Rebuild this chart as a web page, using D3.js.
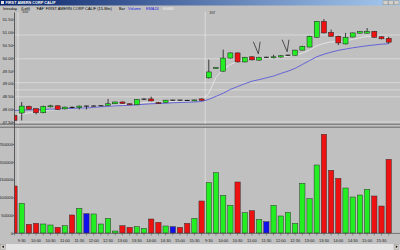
<!DOCTYPE html>
<html>
<head>
<meta charset="utf-8">
<script src="https://cdn.jsdelivr.net/npm/d3@7"></script>
<style>
  body { margin: 0; background: #c0c0c0; }
  svg { display: block; font-family: "Liberation Sans", Arial, sans-serif; }
</style>
</head>
<body>
<div id="chart"></div>
<script>
const sessionTimes = ["9:30","9:45","10:00","10:15","10:30","10:45","11:00","11:15","11:30","11:45","12:00","12:15","12:30","12:45","13:00","13:15","13:30","13:45","14:00","14:15","14:30","14:45","15:00","15:15","15:30","15:45"];
const times = ["15:45", ...sessionTimes, ...sessionTimes];
const dayLabels = ["3/06", "3/07"];
const dayStarts = [1, 27];

const opens  = [47.76,47.85,48.11,48.02,47.86,48.09,48.13,48.01,48.07,48.06,48.12,48.12,48.13,48.15,48.21,48.28,48.21,48.17,48.39,48.40,48.26,48.26,48.35,48.35,48.34,48.33,48.40,
                49.22,49.60,49.48,49.99,50.19,49.84,50.04,49.91,50.02,50.02,50.03,50.10,50.10,50.30,50.42,50.80,51.42,50.99,50.84,50.54,50.81,50.96,50.96,51.03,50.82,50.76];
const highs  = [47.80,48.28,48.14,48.04,48.14,48.17,48.15,48.10,48.10,48.14,48.13,48.15,48.15,48.40,48.29,48.30,48.22,48.39,48.42,48.49,48.28,48.36,48.36,48.36,48.36,48.37,48.42,
                49.93,49.64,50.32,50.21,50.21,50.04,50.06,50.04,50.04,50.12,50.10,50.12,50.31,50.47,50.86,51.43,51.51,51.10,50.86,50.97,50.98,51.04,51.16,51.05,50.84,50.82];
const lows   = [47.52,47.56,47.98,47.80,47.84,48.07,47.97,47.99,48.03,47.99,47.99,48.11,48.12,48.14,48.20,48.21,48.17,48.16,48.37,48.31,48.20,48.25,48.33,48.33,48.32,48.32,48.33,
                49.19,49.58,49.46,49.97,49.82,49.82,49.90,49.89,50.00,49.98,50.01,50.08,50.09,50.29,50.41,50.79,50.95,50.83,50.49,50.52,50.80,50.95,50.95,50.79,50.72,50.55];
const closes = [47.56,48.12,48.00,47.86,48.11,48.13,47.99,48.08,48.06,48.12,48.12,48.13,48.14,48.21,48.28,48.22,48.19,48.38,48.40,48.32,48.24,48.35,48.35,48.34,48.33,48.36,48.34,
                49.45,49.62,49.99,50.19,49.84,50.02,49.92,50.02,50.02,50.04,50.08,50.10,50.30,50.45,50.84,51.42,50.97,50.84,50.58,50.80,50.97,51.02,51.03,50.80,50.74,50.61];

const volumes = [132000,83400,24400,27200,25300,22500,16000,20500,50600,69400,54200,53400,25300,41300,5600,20500,16000,17700,13200,39300,30000,19700,17700,16000,27200,41300,89900,
                 141300,169400,105900,77800,143300,57000,62600,38500,31700,77800,47800,58100,27200,139600,96300,191000,277200,176100,153600,126400,101100,106700,122800,103900,75800,207000];
const volumeDir = ["d","u","d","d","u","u","d","u","d","u","n","u","u","u","u","d","d","u","u","d","d","u","n","d","d","u","d",
                   "u","u","u","u","d","u","d","u","n","u","u","u","u","u","u","u","d","d","d","u","u","u","u","d","d","d"];

const ema24 = [47.95,47.96,47.97,47.98,47.99,48.00,48.01,48.02,48.03,48.04,48.05,48.07,48.09,48.11,48.13,48.14,48.15,48.17,48.19,48.21,48.22,48.23,48.25,48.26,48.27,48.28,48.30,
               48.38,48.50,48.62,48.77,48.88,48.99,49.09,49.15,49.22,49.29,49.39,49.48,49.59,49.74,49.89,50.04,50.14,50.22,50.29,50.34,50.39,50.43,50.47,50.50,50.53,50.55];
const fastLine = [47.70,47.80,47.86,47.86,47.92,47.97,47.98,48.00,48.02,48.04,48.06,48.08,48.09,48.12,48.15,48.17,48.18,48.22,48.26,48.27,48.27,48.29,48.30,48.31,48.31,48.32,48.33,
                  48.62,49.24,49.55,49.74,49.86,49.94,49.98,50.00,50.01,50.02,50.04,50.06,50.11,50.18,50.30,50.47,50.56,50.62,50.62,50.66,50.72,50.78,50.83,50.82,50.80,50.76];

const levels = [50.89, 49.96, 49.03, 48.75, 48.48, 47.50];
const markBars = [34, 38];
const priceTicks = [47.5, 48, 48.5, 49, 49.5, 50, 50.5, 51, 51.5];
const volumeTicks = [0, 50000, 100000, 150000, 200000, 250000];

const W = 400, H = 250;
const plotLeft = 14.5;

const svg = d3.select("#chart").append("svg")
  .attr("width", W).attr("height", H);

svg.append("rect").attr("width", W).attr("height", H).attr("fill", "#c0c0c0");

// window title bar
const grad = svg.append("defs").append("linearGradient").attr("id", "tb");
grad.append("stop").attr("offset", "0%").attr("stop-color", "#0a246a");
grad.append("stop").attr("offset", "100%").attr("stop-color", "#a6caf0");
svg.append("rect").attr("width", W).attr("height", 5.5).attr("fill", "url(#tb)");
svg.append("rect").attr("x", 1).attr("y", 1).attr("width", 3).attr("height", 3).attr("fill", "#e0e0e0");
svg.append("text").attr("x", 5.5).attr("y", 4.3).attr("fill", "#fff")
  .attr("font-size", 3.8).attr("font-weight", "bold").text("FIRST AMERN CORP CALIF");
[383, 388.5, 394].forEach(bx => {
  svg.append("rect").attr("x", bx).attr("y", 0.8).attr("width", 5).attr("height", 4)
    .attr("fill", "#d4d0c8").attr("stroke", "#808080").attr("stroke-width", 0.4);
});

// header line
const header = [
  { t: "Intraday", x: 3, c: "#000" },
  { t: "(Left)", x: 21, c: "#000" },
  { t: "'FAF' FIRST AMERN CORP CALIF (15-Min)", x: 36, c: "#000" },
  { t: "Bar", x: 119, c: "#000" },
  { t: "Volume", x: 128, c: "#2020e0" },
  { t: "EMA24", x: 146, c: "#2020e0" },
  { t: "EMA8", x: 163, c: "#ececec" }
];
svg.selectAll(".hdr").data(header).enter().append("text")
  .attr("class", "hdr")
  .attr("x", d => d.x).attr("y", 9.8)
  .attr("font-size", 3.9).attr("fill", d => d.c)
  .text(d => d.t);

const x = d3.scalePoint().domain(d3.range(times.length)).range([14.5, 388.7]);
const price = d3.scaleLinear().domain([47.5, 51.5]).range([122, 19.3]);
const vol = d3.scaleLinear().domain([0, 250000]).range([233, 144]);

const clip = svg.append("defs").append("clipPath").attr("id", "plotclip");
clip.append("rect").attr("x", plotLeft).attr("y", 12).attr("width", W - plotLeft).attr("height", 222);

// panel separator
svg.append("line").attr("x1", 0).attr("x2", W).attr("y1", 124.2).attr("y2", 124.2)
  .attr("stroke", "#505050").attr("stroke-width", 0.8);
svg.append("line").attr("x1", 0).attr("x2", W).attr("y1", 127.2).attr("y2", 127.2)
  .attr("stroke", "#505050").attr("stroke-width", 0.8);

const plot = svg.append("g").attr("clip-path", "url(#plotclip)");

// day separators
dayStarts.forEach(i => {
  const sx = (x(i - 1) + x(i)) / 2;
  plot.append("line").attr("x1", sx).attr("x2", sx).attr("y1", 12).attr("y2", 124)
    .attr("stroke", "#e2e2e2").attr("stroke-width", 0.8);
  plot.append("line").attr("x1", sx).attr("x2", sx).attr("y1", 128).attr("y2", 233)
    .attr("stroke", "#e2e2e2").attr("stroke-width", 0.8);
});

dayLabels.forEach((lbl, k) => {
  svg.append("text").attr("x", x(dayStarts[k]) + 0.6).attr("y", k === 0 ? 12.8 : 13.6)
    .attr("font-size", 3).attr("fill", "#202020").text(lbl);
});

// price levels
plot.selectAll(".level").data(levels).enter().append("line")
  .attr("class", "level")
  .attr("x1", plotLeft).attr("x2", W)
  .attr("y1", d => price(d)).attr("y2", d => price(d))
  .attr("stroke", "#dedede").attr("stroke-width", 0.8);

// moving averages
const maLine = vals => d3.line().x((d, i) => x(i)).y(d => price(d))(vals);
plot.append("path").attr("d", maLine(fastLine))
  .attr("fill", "none").attr("stroke", "#e6e6e6").attr("stroke-width", 0.9);
plot.append("path").attr("d", maLine(ema24))
  .attr("fill", "none").attr("stroke", "#5a5ad8").attr("stroke-width", 0.9);

// candles
const bodyW = 5;
const candles = plot.selectAll(".candle").data(d3.range(times.length)).enter().append("g")
  .attr("class", "candle");
candles.append("line")
  .attr("x1", i => x(i)).attr("x2", i => x(i))
  .attr("y1", i => price(highs[i])).attr("y2", i => price(lows[i]))
  .attr("stroke", "#000").attr("stroke-width", 0.7);
candles.each(function (i) {
  const g = d3.select(this);
  const o = opens[i], c = closes[i];
  if (Math.abs(c - o) < 0.015) {
    g.append("line")
      .attr("x1", x(i) - bodyW / 2).attr("x2", x(i) + bodyW / 2)
      .attr("y1", price(o)).attr("y2", price(o))
      .attr("stroke", "#000").attr("stroke-width", 0.9);
  } else {
    const top = price(Math.max(o, c)), bot = price(Math.min(o, c));
    g.append("rect")
      .attr("x", x(i) - bodyW / 2).attr("y", top)
      .attr("width", bodyW).attr("height", Math.max(1, bot - top))
      .attr("fill", c > o ? "#22ee22" : "#ee1111")
      .attr("stroke", "#202020").attr("stroke-width", 0.5);
  }
});

// hand-drawn marks above two bars
markBars.forEach(i => {
  const tipX = x(i) - 0.8, tipY = price(highs[i]) - 3;
  plot.append("path")
    .attr("d", `M${tipX - 5},${tipY - 12}L${tipX},${tipY}L${tipX + 1.8},${tipY - 12}`)
    .attr("fill", "none").attr("stroke", "#000").attr("stroke-width", 0.6);
});

// volume
const volColor = { u: "#22ee22", d: "#ee1111", n: "#1010ee" };
const barW = 5.3;
plot.selectAll(".vbar").data(volumes).enter().append("rect")
  .attr("class", "vbar")
  .attr("x", (d, i) => x(i) - barW / 2)
  .attr("y", d => vol(d))
  .attr("width", barW)
  .attr("height", d => vol(0) - vol(d))
  .attr("fill", (d, i) => volColor[volumeDir[i]])
  .attr("stroke", "#303030").attr("stroke-width", 0.5);

// axes
const priceAxis = svg.append("g").attr("transform", `translate(${plotLeft},0)`)
  .call(d3.axisLeft(price).tickValues(priceTicks).tickFormat(d3.format(".2f")).tickSize(2).tickSizeOuter(0));
const volAxis = svg.append("g").attr("transform", `translate(${plotLeft},0)`)
  .call(d3.axisLeft(vol).tickValues(volumeTicks).tickFormat(d3.format("d")).tickSize(2).tickSizeOuter(0));
[priceAxis, volAxis].forEach(a => {
  a.select(".domain").remove();
  a.selectAll("line").attr("stroke", "#404040").attr("stroke-width", 0.5);
  a.selectAll("text").attr("font-size", 4.2).attr("fill", "#202020").attr("x", -1.5)
    .style("font-family", "'Liberation Sans', Arial, sans-serif");
});

svg.append("line").attr("x1", plotLeft).attr("x2", plotLeft).attr("y1", 12.5).attr("y2", 233.5)
  .attr("stroke", "#404040").attr("stroke-width", 0.8);
svg.append("line").attr("x1", plotLeft).attr("x2", W).attr("y1", 233.4).attr("y2", 233.4)
  .attr("stroke", "#404040").attr("stroke-width", 0.6);

const timeAxis = svg.append("g").attr("transform", "translate(0,233.4)");
timeAxis.selectAll(".tick").data(d3.range(times.length)).enter().append("line")
  .attr("x1", i => x(i)).attr("x2", i => x(i)).attr("y1", 0).attr("y2", 2)
  .attr("stroke", "#404040").attr("stroke-width", 0.5);
timeAxis.selectAll(".tlabel")
  .data(d3.range(times.length).filter(i => /:(00|30)$/.test(times[i])))
  .enter().append("text")
  .attr("x", i => x(i)).attr("y", 8.6)
  .attr("text-anchor", "middle").attr("font-size", 4).attr("fill", "#202020")
  .text(i => times[i]);

// scroll bar
svg.append("rect").attr("x", 0).attr("y", 244).attr("width", W).attr("height", 6).attr("fill", "#e4e4e4");
[0.5, 394].forEach(bx => {
  svg.append("rect").attr("x", bx).attr("y", 244.3).attr("width", 5).attr("height", 5)
    .attr("fill", "#d4d0c8").attr("stroke", "#808080").attr("stroke-width", 0.4);
});
svg.append("path").attr("d", "M1.8,246.8L3.8,245.5L3.8,248.1Z").attr("fill", "#000");
svg.append("path").attr("d", "M397.8,246.8L395.8,245.5L395.8,248.1Z").attr("fill", "#000");
</script>
</body>
</html>
